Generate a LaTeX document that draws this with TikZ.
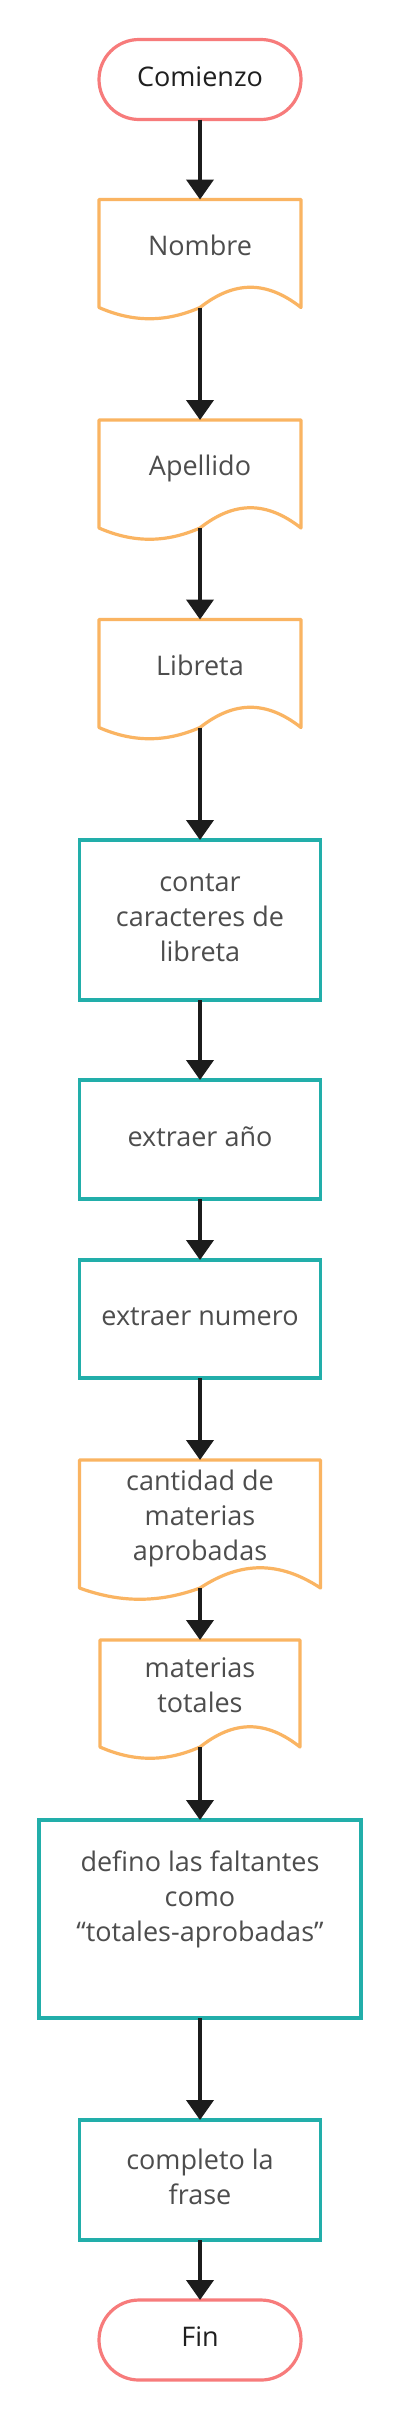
\documentclass[tikz,border=0pt]{standalone}
\usepackage{fontspec}
\setmainfont{Open Sans}
\usetikzlibrary{arrows.meta,calc}
\definecolor{termred}{HTML}{F77B7B}
\definecolor{docorange}{HTML}{FAB462}
\definecolor{procteal}{HTML}{22AEAA}
\definecolor{arrowblack}{HTML}{1C1C1C}
\definecolor{textgray}{HTML}{4D4D4D}
\definecolor{textdark}{HTML}{1F1F1F}
\newcommand\docoutline[1]{%
  \draw[docline] (#1.south west) -- (#1.north west) -- (#1.north east) -- (#1.south east)
    .. controls ($(#1.south west)!0.83!(#1.south east)+(0,-27)$) and ($(#1.south west)!0.67!(#1.south east)+(0,-27)$) .. (#1.south)
    .. controls ($(#1.south west)!0.33!(#1.south east)+(0,15)$) and ($(#1.south west)!0.17!(#1.south east)+(0,15)$) .. (#1.south west) -- cycle;}
\begin{document}
\begin{tikzpicture}[x=1pt,y=-1pt,
  every node/.style={font=\fontsize{27}{35}\selectfont, inner sep=0pt, outer sep=0pt},
  terminal/.style={draw=termred, line width=3.2pt, rounded corners=40pt, minimum width=202pt, minimum height=80pt, text=textdark, text height=19.5pt, text depth=6.5pt},
  docnode/.style={minimum width=202pt, minimum height=108pt, text=textgray, align=center, text height=19.5pt, text depth=16.5pt},
  procbox/.style={draw=procteal, line width=3.2pt, minimum width=241pt, text=textgray, align=center, text height=19.5pt, text depth=6.5pt},
  docline/.style={draw=docorange, line width=3.2pt, line join=round},
  flow/.style={draw=arrowblack, line width=4pt, -{Triangle[length=20pt,width=27pt]}}]
\useasboundingbox[fill=white] (0,0) rectangle (400,2420);

\node[terminal] (start) at (200,79.5) {Comienzo};
\node[docnode] (nombre) at (200,253.5) {Nombre};
\node[docnode] (apellido) at (200,474) {Apellido};
\node[docnode] (libreta) at (200,673.5) {Libreta};
\node[procbox, minimum height=160pt, text height=89.5pt] (contar) at (200,920) {contar\\caracteres de\\libreta};
\node[procbox, minimum height=119pt] (anio) at (200,1139.5) {extraer año};
\node[procbox, minimum height=118pt] (numero) at (200,1319) {extraer numero};
\node[docnode, minimum width=241pt, minimum height=128pt, text height=89.5pt] (cantidad) at (200,1524) {cantidad de\\materias\\aprobadas};
\node[docnode, minimum width=200pt, minimum height=107pt, text height=54.5pt] (totales) at (200,1693.5) {materias\\totales};
\node[procbox, minimum width=322pt, minimum height=198pt, text height=89.5pt, text depth=44.5pt] (defino) at (200,1919) {defino las faltantes\\como\\“totales-aprobadas”};
\node[procbox, minimum height=120pt, text height=54.5pt] (completo) at (200,2180) {completo la\\frase};
\node[terminal] (fin) at (200,2340) {Fin};

\docoutline{nombre}
\docoutline{apellido}
\docoutline{libreta}
\docoutline{cantidad}
\docoutline{totales}

\draw[flow] (start) -- (nombre);
\draw[flow] (nombre) -- (apellido);
\draw[flow] (apellido) -- (libreta);
\draw[flow] (libreta) -- (contar);
\draw[flow] (contar) -- (anio);
\draw[flow] (anio) -- (numero);
\draw[flow] (numero) -- (cantidad);
\draw[flow] (cantidad) -- (totales);
\draw[flow] (totales) -- (defino);
\draw[flow] (defino) -- (completo);
\draw[flow] (completo) -- (fin);
\end{tikzpicture}
\end{document}
